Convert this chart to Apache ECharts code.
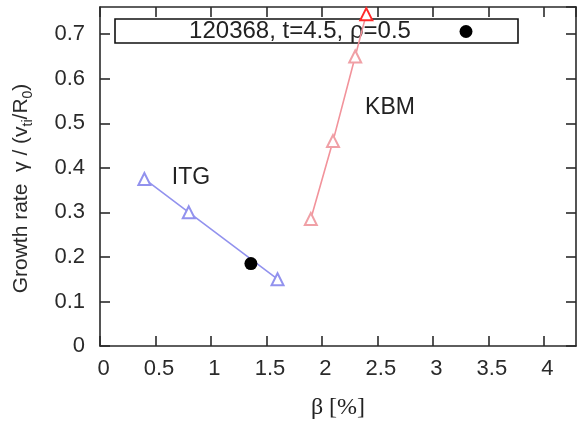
<!DOCTYPE html>
<html>
<head>
<meta charset="utf-8">
<script src="https://cdn.jsdelivr.net/npm/echarts@6/dist/echarts.min.js"></script>
<style>
  html, body { margin: 0; padding: 0; background: #fff; }
  #chart { width: 577px; height: 425px; }
</style>
</head>
<body>
<div id="chart"></div>
<script>
// Growth rate vs beta for the ITG and KBM branches
const itgBeta = [0.4, 0.8, 1.6];
const itgGamma = [0.375, 0.30, 0.15];
const kbmBeta = [1.9, 2.1, 2.3, 2.4];
const kbmGamma = [0.285, 0.46, 0.65, 0.745];
const caseBeta = [1.36];
const caseGamma = [0.185];
const caseName = '120368, t=4.5, \u03c1=0.5';
const xTicks = [0, 0.5, 1, 1.5, 2, 2.5, 3, 3.5, 4];
const yTicks = [0, 0.1, 0.2, 0.3, 0.4, 0.5, 0.6, 0.7];

const pairs = (xs, ys) => xs.map((x, i) => [x, ys[i]]);

const axisColor = '#2a2a2a';
const font = 'Arial, "Liberation Sans", sans-serif';

const chart = echarts.init(document.getElementById('chart'), null, { renderer: 'canvas' });

const xBase = {
  type: 'value', min: 0, max: 4.29, interval: 0.5,
  axisLine: { show: true, onZero: false, lineStyle: { color: axisColor, width: 1.6 } },
  axisTick: { show: true, inside: true, length: 10, lineStyle: { color: axisColor, width: 1.6 } },
  splitLine: { show: false }
};
const yBase = {
  type: 'value', min: 0, max: 0.761, interval: 0.1,
  axisLine: { show: true, onZero: false, lineStyle: { color: axisColor, width: 1.6 } },
  axisTick: { show: true, inside: true, length: 10, lineStyle: { color: axisColor, width: 1.6 } },
  splitLine: { show: false }
};

chart.setOption({
  animation: false,
  backgroundColor: '#fff',
  grid: { left: 100, top: 7, right: 1, bottom: 79 },
  xAxis: [
    Object.assign({}, xBase, {
      position: 'bottom',
      name: '\u03b2 [%]',
      nameLocation: 'middle',
      nameGap: 50,
      nameTextStyle: { fontFamily: '"Liberation Serif", "Times New Roman", serif', fontSize: 24, color: '#222' },
      axisLabel: {
        show: true, margin: 12, fontFamily: font, fontSize: 22, color: '#2a2a2a',
        padding: [0, 0, 0, 7], showMaxLabel: false,
        formatter: v => (xTicks.includes(+v.toFixed(2)) ? String(v) : '')
      }
    }),
    Object.assign({}, xBase, { position: 'top', axisLabel: { show: false } })
  ],
  yAxis: [
    Object.assign({}, yBase, {
      position: 'left',
      name: 'Growth rate  \u03b3 / (v{sub|ti}/R{sub|0})',
      nameLocation: 'middle',
      nameRotate: 90,
      nameGap: 65,
      nameTextStyle: {
        fontFamily: font, fontSize: 21, color: '#2a2a2a', lineHeight: 27,
        padding: [0, 24, 0, 0],
        rich: { sub: { fontFamily: font, fontSize: 14, color: '#2a2a2a', verticalAlign: 'bottom', lineHeight: 17 } }
      },
      axisLabel: {
        show: true, margin: 15, fontFamily: font, fontSize: 22, color: '#2a2a2a', showMaxLabel: false,
        formatter: v => (yTicks.includes(+v.toFixed(2)) ? String(v) : '')
      }
    }),
    Object.assign({}, yBase, { position: 'right', axisLabel: { show: false } })
  ],
  graphic: [
    {
      type: 'rect', z: 1,
      shape: { x: 115, y: 19, width: 403, height: 24 },
      style: { fill: '#fff', stroke: '#111', lineWidth: 1.6 }
    },
    {
      type: 'text', z: 1, x: 300, y: 31,
      style: { text: caseName, font: '24px Arial, "Liberation Sans", sans-serif', fill: '#222', align: 'center', verticalAlign: 'middle' }
    },
    {
      type: 'circle', z: 1,
      shape: { cx: 466, cy: 31.5, r: 6.5 },
      style: { fill: '#000' }
    },
    {
      type: 'text', x: 191, y: 178,
      style: { text: 'ITG', font: '23px Arial, "Liberation Sans", sans-serif', fill: '#222', align: 'center', verticalAlign: 'middle' }
    },
    {
      type: 'text', x: 390, y: 108,
      style: { text: 'KBM', font: '23px Arial, "Liberation Sans", sans-serif', fill: '#222', align: 'center', verticalAlign: 'middle' }
    }
  ],
  series: [
    {
      name: 'ITG', type: 'line', z: 5,
      data: pairs(itgBeta, itgGamma),
      symbol: 'emptyTriangle', symbolSize: 12,
      lineStyle: { color: '#9292ee', width: 1.6 },
      itemStyle: { color: '#9292ee', borderWidth: 1.4 }
    },
    {
      name: 'KBM', type: 'line', z: 5,
      data: pairs(kbmBeta, kbmGamma).map((p, i) =>
        i === kbmBeta.length - 1 ? { value: p, itemStyle: { color: '#ff2a2a' } } : p),
      symbol: 'emptyTriangle', symbolSize: 12,
      lineStyle: { color: '#f2939b', width: 1.6 },
      itemStyle: { color: '#f0a0a6', borderWidth: 1.4 }
    },
    {
      name: caseName, type: 'scatter', z: 6,
      data: pairs(caseBeta, caseGamma),
      symbol: 'circle', symbolSize: 13,
      itemStyle: { color: '#000', opacity: 1 }
    }
  ]
});
</script>
</body>
</html>
